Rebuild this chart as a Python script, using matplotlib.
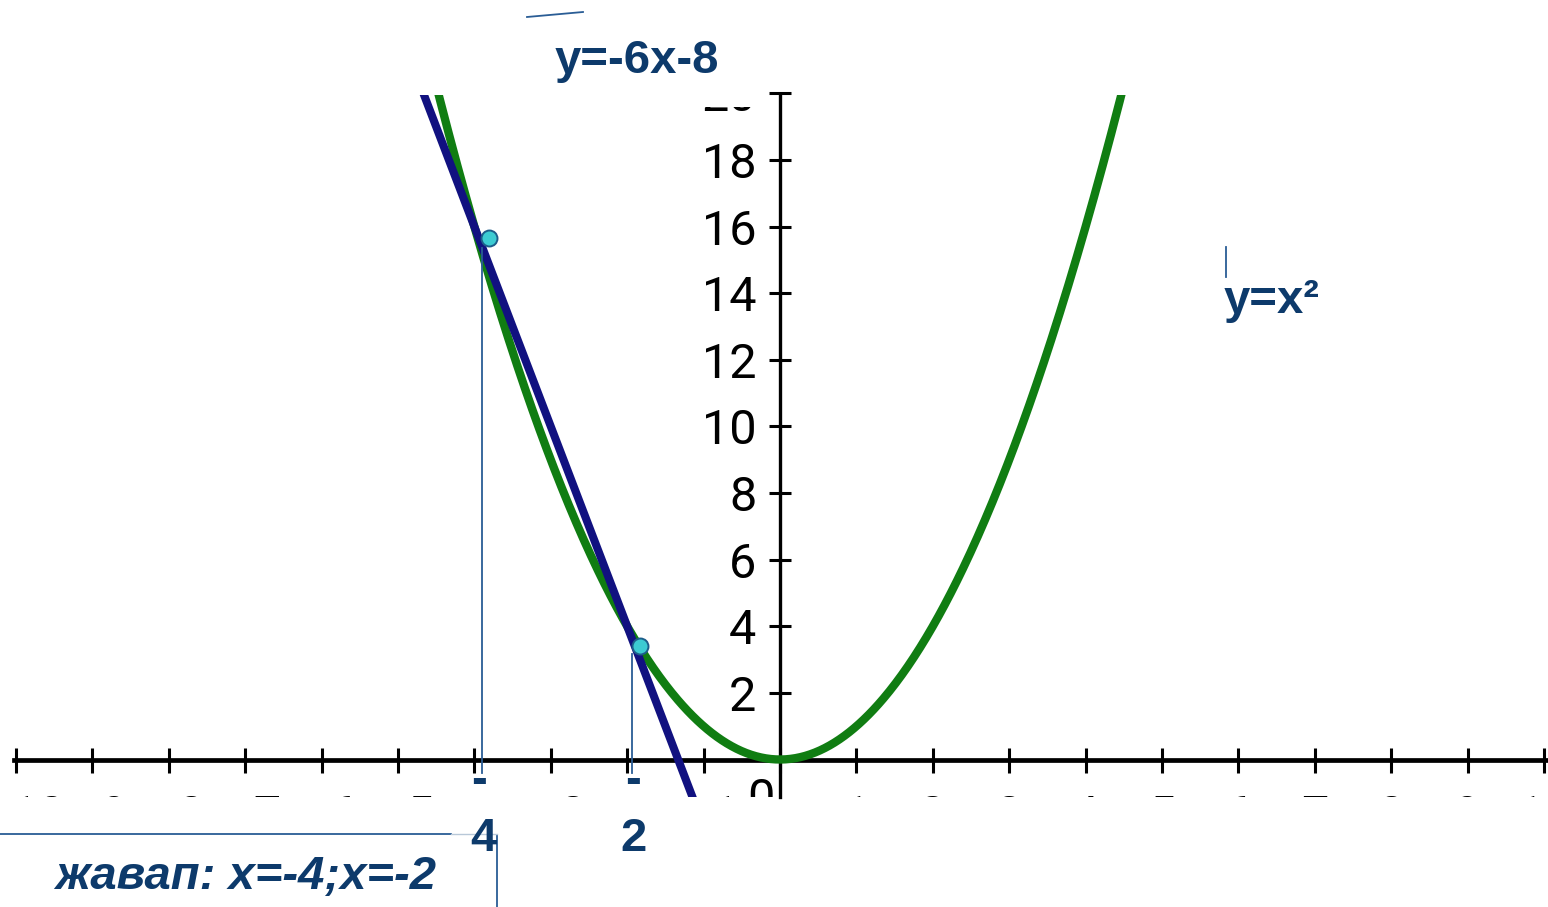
import numpy as np
import matplotlib
matplotlib.use("Agg")
import matplotlib.pyplot as plt
from matplotlib.patches import Rectangle
from matplotlib.transforms import Bbox, TransformedBbox

# functions drawn on the slide: y = x^2 and y = -6x - 8
parabola_coef = [1, 0, 0]
line_coef = [-6, -8]

# intersection markers as placed on the slide (slightly off the exact points)
dot_x = [-3.81, -1.83]
dot_y = [15.65, 3.42]

# drop lines under the intersections
drop_x = [-3.90, -1.94]
drop_top = [15.35, 3.18]

x_ticks = list(range(-10, 11))
y_ticks = list(range(2, 21, 2))

W, H = 1548, 907
fig = plt.figure(figsize=(W / 100, H / 100), dpi=100)
fig.patch.set_facecolor("white")
ax = fig.add_axes([0, 0, 1, 1])

# axis scale matched to the slide (76.4 px per x unit, 33.3 px per y unit)
x0_px, y0_px, ux, uy = 780, 759.5, 76.4, 33.3
ax.set_xlim(-x0_px / ux, (W - x0_px) / ux)
ax.set_ylim((y0_px - H) / uy, y0_px / uy)

y_clip_low = -1.14
y_clip_high = 19.95

def px(x, y):
    return x / W, 1 - y / H

navy = "#0d3a6b"
thin = "#2a5d95"

# curves, clipped to the visible plotting window
clip = Rectangle((-10.5, y_clip_low), 21, y_clip_high - y_clip_low,
                 transform=ax.transData, visible=False)
ax.add_patch(clip)

xs = np.linspace(-4.8, 4.8, 600)
ln_g, = ax.plot(xs, np.polyval(parabola_coef, xs), color="#107d12", lw=6.0,
                solid_capstyle="butt", zorder=3)
xl = np.linspace(-5.0, -0.8, 100)
ln_b, = ax.plot(xl, np.polyval(line_coef, xl), color="#111180", lw=5.8,
                solid_capstyle="butt", zorder=4)
ln_g.set_clip_path(clip)
ln_b.set_clip_path(clip)

for xv, top in zip(drop_x, drop_top):
    ax.plot([xv, xv], [-0.42, top], color=thin, lw=1.3, zorder=5)

ax.plot(dot_x, dot_y, "o", ms=11.5, mfc="#3ccbd2", mec="#1c5d8a", mew=1.4, zorder=6)

# axes through the origin with crossing ticks
for s in ["top", "right"]:
    ax.spines[s].set_visible(False)
ax.spines["left"].set_position(("data", 0))
ax.spines["bottom"].set_position(("data", 0))
ax.spines["left"].set_bounds(y_clip_low, y_clip_high)
ax.spines["bottom"].set_bounds(-10.03, 10.1)
ax.spines["left"].set_linewidth(2.4)
ax.spines["bottom"].set_linewidth(3.4)
ax.spines["left"].set_zorder(2)
ax.spines["bottom"].set_zorder(2)
ax.set_xticks(x_ticks)
ax.set_yticks(y_ticks)
ax.tick_params(axis="x", direction="inout", length=18, width=2.2,
               labelbottom=False)
ax.tick_params(axis="y", direction="inout", length=16.5, width=2.2,
               labelleft=False)
ax.set_facecolor("white")

tick_font = dict(family=["Roboto", "DejaVu Sans"], fontsize=35, color="black")

# y tick labels (the top one is cut off on the slide)
top_cut = TransformedBbox(Bbox([[-20, -10], [20, 19.58]]), ax.transData)
for v in y_ticks:
    t = ax.annotate(str(v), xy=(0, v), xytext=(-17, -3.6), textcoords="offset points",
                    ha="right", va="center", **tick_font)
    t.set_clip_box(top_cut)
    t.set_clip_on(True)

# x tick labels: only their tops peek out below the axis
low_cut = TransformedBbox(Bbox([[-20, y_clip_low], [20, 30]]), ax.transData)
for v in x_ticks:
    if v in (0, -4, -2):
        continue
    lab = str(v).replace("-", "\u2212")
    t = ax.annotate(lab, xy=(v, 0), xytext=(6 if v < 0 else 0, -25),
                    textcoords="offset points", ha="center", va="top", **tick_font)
    t.set_clip_box(low_cut)
    t.set_clip_on(True)
t = ax.annotate("0", xy=(0, 0), xytext=(-4, -12.5), textcoords="offset points",
                ha="right", va="top", **tick_font)
t.set_clip_box(low_cut)
t.set_clip_on(True)

# slide annotations
bold = dict(family=["Liberation Sans", "DejaVu Sans"], fontweight="bold",
            color=navy, fontsize=34)
fig.text(*px(555, 73), "y=-6x-8", ha="left", va="baseline", **bold)
fig.text(*px(1224, 313), "y=x\u00b2", ha="left", va="baseline", **bold)
fig.text(*px(479, 781), "-", ha="center", va="center", **bold)
fig.text(*px(633, 781), "-", ha="center", va="center", **bold)
fig.text(*px(483, 851), "4", ha="center", va="baseline", **bold)
fig.text(*px(634, 851), "2", ha="center", va="baseline", **bold)
fig.text(*px(55, 889), "\u0436\u0430\u0432\u0430\u043f: x=-4;x=-2",
         style="italic", ha="left", va="baseline", **bold)

# leftover text-box borders
for (xa, ya), (xb, yb) in [((527, 17), (583, 12)), ((1226, 247), (1226, 277)),
                           ((0, 834), (451, 834)), ((497, 835), (497, 907))]:
    fig.add_artist(plt.Line2D([xa / W, xb / W], [1 - ya / H, 1 - yb / H],
                              color=thin, lw=1.3))
fig.add_artist(plt.Line2D([451 / W, 497 / W], [1 - 834 / H, 1 - 834 / H],
                          color="#b8c8d8", lw=1.0))

fig.savefig("out.png", dpi=100, facecolor="white")
